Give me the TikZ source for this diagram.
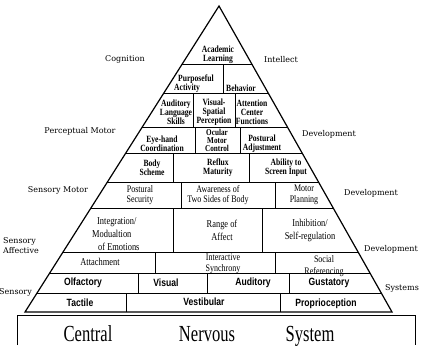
\documentclass[tikz,border=0pt]{standalone}
\usepackage{fontspec}
\setmainfont{Liberation Serif}
\newfontfamily\cellfont[FakeStretch=0.8]{Liberation Serif}
\newfontfamily\sensefont[FakeStretch=0.82]{Liberation Sans}
\newfontfamily\sidefont{DejaVu Serif}
\newfontfamily\cnsfont[FakeStretch=0.72]{Liberation Serif}
\begin{document}
\begin{tikzpicture}[x=1pt, y=-1pt,
  cell/.style={font=\cellfont\bfseries\fontsize{9.5}{8.8}\selectfont, align=center, inner sep=0pt},
  plain/.style={font=\cellfont\fontsize{10.5}{13}\selectfont, align=center, inner sep=0pt},
  sense/.style={font=\sensefont\bfseries\fontsize{10.5}{10}\selectfont, inner sep=0pt},
  side/.style={font=\sidefont\fontsize{8}{10}\selectfont, inner sep=0pt},
  cns/.style={font=\cnsfont\fontsize{23}{23}\selectfont, inner sep=0pt, anchor=base},
  rule/.style={line width=0.9pt}]
\useasboundingbox (0,0) rectangle (422,345);
\coordinate (apex) at (219,6);
\coordinate (bl) at (25,312);
\coordinate (br) at (392,312);
% rows and cells inside the pyramid
\begin{scope}
\clip (apex) -- (bl) -- (br) -- cycle;
\foreach \y in {64,93,127,153,182,208,252,273,293}
  \draw[rule] (0,\y) -- (422,\y);
\foreach \x/\a/\b in {223/64/93, 193/93/127, 235/93/127, 195/127/153, 240/127/153,
  173/153/182, 249/153/182, 181/182/208, 275/182/208, 173/208/252, 262/208/252,
  155/252/273, 275/252/273, 138/273/293, 207/273/293, 289/273/293, 126/293/312, 280/293/312}
  \draw[rule] (\x,\a) -- (\x,\b);
\end{scope}
\draw[line width=1.2pt] (apex) -- (bl) -- (br) -- cycle;
% central nervous system box
\draw[line width=1pt] (17,345) -- (17,315) -- (415,315) -- (415,345);
\node[cns] (central) at (88,341) {Central};
\node[cns] (nervous) at (207,341) {Nervous};
\node[cns] (system) at (310,341) {System};
% cells
\node[cell] (academic) at (218,55) {Academic\\Learning};
\node[cell, align=left, anchor=west] (purposeful) at (174,84) {\hspace*{4pt}Purposeful\\Activity};
\node[cell] (behavior) at (241,88) {Behavior};
\node[cell] (auditorylang) at (176,112) {Auditory\\Language\\Skills};
\node[cell] (visualspatial) at (214,112) {Visual-\\Spatial\\Perception};
\node[cell] (attention) at (252,112) {Attention\\Center\\Functions};
\node[cell] (eyehand) at (162,144) {Eye-hand\\Coordination};
\node[cell, font=\cellfont\bfseries\fontsize{9}{8}\selectfont] (ocular) at (217,140) {Ocular\\Motor\\Control};
\node[cell] (posturaladj) at (262,144) {Postural\\Adjustment};
\node[cell] (bodyscheme) at (152,168) {Body\\Scheme};
\node[cell] (reflux) at (218,168) {Reflux\\Maturity};
\node[cell] (ability) at (286,168) {Ability to\\Screen Input};
\node[plain, font=\cellfont\fontsize{10}{10.5}\selectfont] (posturalsec) at (140,195) {Postural\\Security};
\node[plain, font=\cellfont\fontsize{10}{10.5}\selectfont] (awareness) at (218,195) {Awareness of\\Two Sides of Body};
\node[plain, font=\cellfont\fontsize{10}{10.5}\selectfont] (motorplan) at (304,195) {Motor\\Planning};
\node[plain, align=left, anchor=west] (integration) at (92,234) {\hspace*{5pt}Integration/\\Modualtion\\\hspace*{6pt}of Emotions};
\node[plain] (range) at (222,230) {Range of\\Affect};
\node[plain] (inhibition) at (310,230) {Inhibition/\\Self-regulation};
\node[plain] (attachment) at (100,262) {Attachment};
\node[plain, font=\cellfont\fontsize{10}{11.5}\selectfont] (interactive) at (223,264) {Interactive\\Synchrony};
\node[plain, font=\cellfont\fontsize{10}{11.5}\selectfont] (social) at (324,266) {Social\\Referencing};
\node[sense] (olfactory) at (83,283) {Olfactory};
\node[sense] (visual) at (166,283) {Visual};
\node[sense] (auditory) at (253,283) {Auditory};
\node[sense] (gustatory) at (329,283) {Gustatory};
\node[sense] (tactile) at (80,303) {Tactile};
\node[sense] (vestibular) at (204,302) {Vestibular};
\node[sense] (proprio) at (326,304) {Proprioception};
% side labels
\node[side] (cognition) at (125,59) {Cognition};
\node[side] (intellect) at (281,60) {Intellect};
\node[side] (perceptual) at (80,131) {Perceptual Motor};
\node[side] (dev1) at (329,134) {Development};
\node[side] (sensmotor) at (58,190) {Sensory Motor};
\node[side] (dev2) at (371,193) {Development};
\node[side, align=left, anchor=west] (sensaff) at (3,246) {Sensory\\Affective};
\node[side] (dev3) at (391,249) {Development};
\node[side, anchor=east] (sensory) at (32,292) {Sensory};
\node[side] (systems) at (402,288) {Systems};
\end{tikzpicture}
\end{document}
